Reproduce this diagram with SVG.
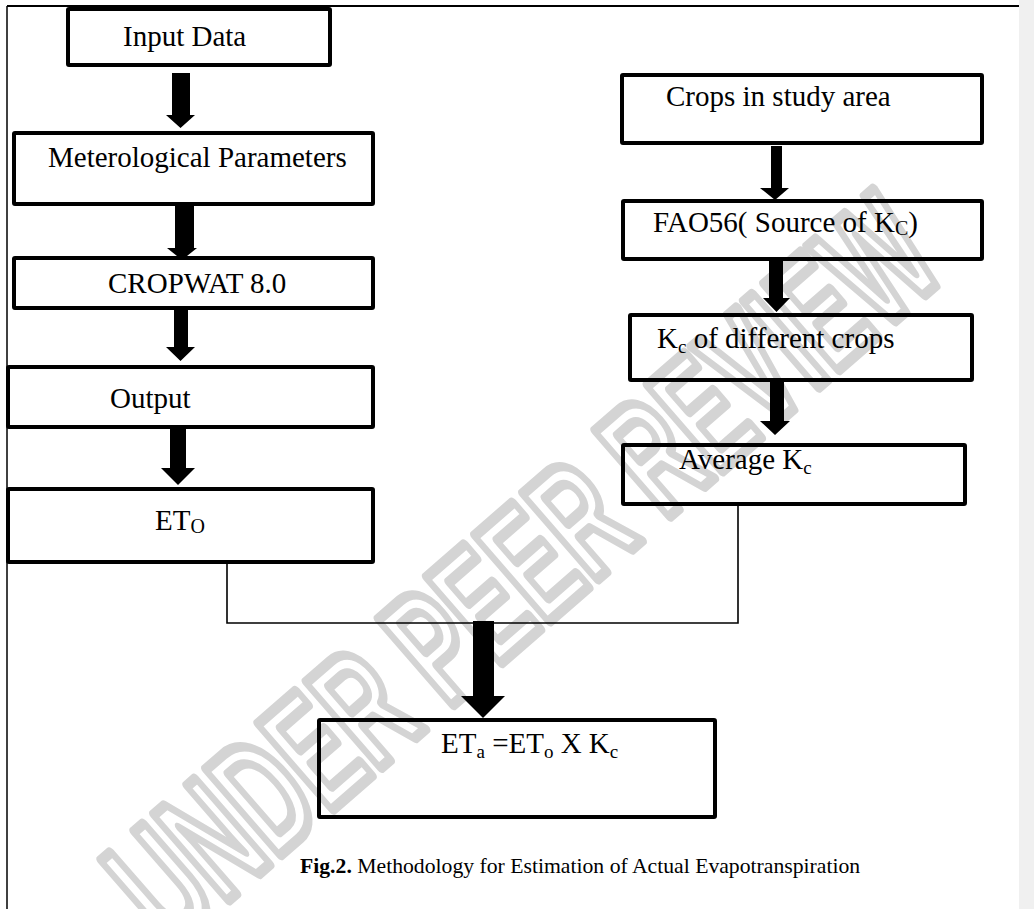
<svg xmlns="http://www.w3.org/2000/svg" width="1034" height="909" viewBox="0 0 1034 909">
<defs>
<style>
.box{fill:none;stroke:#000;stroke-width:4;}
.t{font-family:"Liberation Serif","Times New Roman",serif;font-size:29px;fill:#000;}
.sub{font-size:19px;}
.subC{font-size:20px;}
.arr{fill:#000;stroke:none;}
.conn{fill:none;stroke:#000;stroke-width:1.6;}
.wm{font-family:"Liberation Sans",Arial,sans-serif;font-weight:bold;font-size:165px;fill:none;stroke:#d4d4d4;stroke-width:9;stroke-linejoin:round;}
.cap{font-family:"Liberation Serif","Times New Roman",serif;font-size:21.7px;fill:#000;}
</style>
</defs>
<rect x="0" y="0" width="1034" height="909" fill="#fff"/>
<rect x="1019" y="0" width="15" height="909" fill="#f0f0f0"/>
<g id="frame">
<line x1="7" y1="6" x2="1019" y2="6" stroke="#000" stroke-width="2"/>
<line x1="7" y1="6" x2="7" y2="909" stroke="#000" stroke-width="1.5"/>
</g>
<g id="watermark">
<text class="wm" x="0" y="0" text-anchor="middle" vector-effect="non-scaling-stroke" transform="translate(560,612) rotate(-41) scale(0.58,1)">UNDER PEER REVIEW</text>
</g>
<g id="connectors">
<polygon class="arr" points="172,73 190,73 190,115 195,115 180.5,128 166,115 172,115"/>
<polygon class="arr" points="175,204 194,204 194,248 197,248 182,260 167,248 175,248"/>
<polygon class="arr" points="174,308 188,308 188,347 195,347 180.5,361 166,347 174,347"/>
<polygon class="arr" points="170,427 186,427 186,468 195,468 178,485 161,468 170,468"/>
<polygon class="arr" points="771,146 782,146 782,188 789,188 775,200 760,188 771,188"/>
<polygon class="arr" points="769,259 783,259 783,298 790,298 776.5,312 763,298 769,298"/>
<polygon class="arr" points="770,380 784,380 784,421 790,421 775,435 760,421 770,421"/>
<path class="conn" d="M227,562 V623 H738 V504"/>
<polygon class="arr" points="473,621 494,621 494,696 505,696 483,718 461,696 473,696"/>
</g>
<g id="n-input">
<rect class="box" x="68" y="9" width="262" height="56" rx="1"/>
<text class="t" x="123" y="46">Input Data</text>
</g>
<g id="n-met">
<rect class="box" x="14" y="133" width="359" height="71" rx="1"/>
<text class="t" x="48" y="167">Meterological Parameters</text>
</g>
<g id="n-cropwat">
<rect class="box" x="14" y="258" width="359" height="50" rx="1"/>
<text class="t" x="108" y="293">CROPWAT 8.0</text>
</g>
<g id="n-output">
<rect class="box" x="8" y="367" width="365" height="60" rx="1"/>
<text class="t" x="110" y="408">Output</text>
</g>
<g id="n-eto">
<rect class="box" x="8" y="489" width="365" height="73" rx="1"/>
<text class="t" x="155" y="530">ET<tspan class="subC" dy="3">O</tspan></text>
</g>
<g id="n-crops">
<rect class="box" x="622" y="75" width="360" height="68" rx="1"/>
<text class="t" x="666" y="106">Crops in study area</text>
</g>
<g id="n-fao">
<rect class="box" x="623" y="201" width="359" height="58" rx="1"/>
<text class="t" x="653" y="232">FAO56( Source of K<tspan class="subC" dy="3">C</tspan><tspan dy="-3">)</tspan></text>
</g>
<g id="n-kc">
<rect class="box" x="630" y="315" width="342" height="65" rx="1"/>
<text class="t" x="657" y="348">K<tspan class="sub" dy="5">c</tspan><tspan dy="-5"> of different crops</tspan></text>
</g>
<g id="n-avg">
<rect class="box" x="623" y="445" width="342" height="59" rx="1"/>
<text class="t" x="679" y="469">Average K<tspan class="sub" dy="5">c</tspan></text>
</g>
<g id="n-eta">
<rect class="box" x="319" y="720" width="396" height="97" rx="1"/>
<text class="t" x="441" y="753">ET<tspan class="sub" dy="5">a</tspan><tspan dy="-5"> =ET</tspan><tspan class="sub" dy="5">o</tspan><tspan dy="-5"> X K</tspan><tspan class="sub" dy="5">c</tspan></text>
</g>
<g id="caption">
<text class="cap" x="300" y="873"><tspan font-weight="bold">Fig.2.</tspan> Methodology for Estimation of Actual Evapotranspiration</text>
</g>
</svg>
